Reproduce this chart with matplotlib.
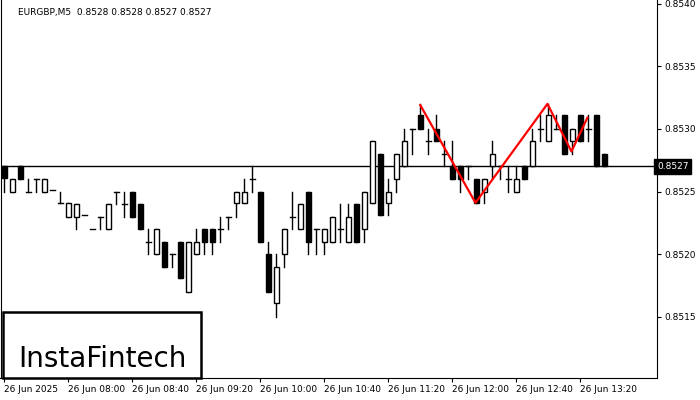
import matplotlib
matplotlib.use("Agg")
import matplotlib.pyplot as plt
from matplotlib.patches import Rectangle

opens  = [0.8527,0.8525,0.8527,0.8525,0.8526,0.8525,0.85251,0.85241,0.8523,0.8523,0.85231,0.8522,0.8523,0.8522,0.8525,0.8524,0.8525,0.8524,0.8521,0.8520,0.8521,0.8520,0.8521,0.8517,0.8520,0.8522,0.8522,
          0.8522,0.8523,0.85241,0.85241,0.8526,0.8525,0.8520,0.85161,0.8520,0.8523,0.8522,0.8525,0.8522,0.8521,0.8521,0.8522,0.8521,0.8524,0.8522,0.85241,0.8528,0.85241,0.8526,0.8527,
          0.8530,0.85311,0.8529,0.8530,0.8528,0.8527,0.8527,0.8527,0.8526,0.8525,0.8527,0.8527,0.8526,0.8525,0.8527,0.8527,0.8530,0.8529,0.8530,0.85311,0.8529,0.85311,0.8530,0.85311,0.8528]
closes = [0.85261,0.8526,0.8526,0.8525,0.8526,0.8526,0.85251,0.85241,0.85241,0.8524,0.85231,0.8522,0.8523,0.8524,0.8525,0.8524,0.8523,0.8522,0.8521,0.8522,0.8519,0.8520,0.85181,0.8521,0.8521,0.8521,0.8521,
          0.8522,0.8523,0.8525,0.8525,0.8526,0.8521,0.8517,0.8519,0.8522,0.8523,0.8524,0.8521,0.8522,0.8522,0.8523,0.8522,0.8523,0.8521,0.8525,0.8529,0.85231,0.8525,0.8528,0.8529,
          0.8530,0.8530,0.8529,0.8529,0.8528,0.8526,0.8526,0.8527,0.85241,0.8526,0.8528,0.8527,0.8526,0.8526,0.8526,0.8529,0.8530,0.85311,0.8530,0.8528,0.8530,0.8529,0.8530,0.8527,0.8527]
highs  = [0.8527,0.8526,0.8527,0.8526,0.8526,0.8526,0.85251,0.8525,0.85241,0.8524,0.85231,0.8522,0.8523,0.8524,0.8525,0.8525,0.8525,0.8524,0.8522,0.8522,0.8521,0.8520,0.8521,0.8521,0.8522,0.8522,0.8522,
          0.8523,0.8523,0.8525,0.8526,0.8527,0.8525,0.8521,0.8520,0.8522,0.8525,0.8524,0.8525,0.8522,0.8522,0.8523,0.8524,0.8524,0.8524,0.8525,0.8529,0.8528,0.8526,0.8528,0.8530,
          0.8530,0.8532,0.8530,0.85311,0.8529,0.8529,0.8527,0.8527,0.8526,0.8526,0.8529,0.8527,0.8527,0.8527,0.8527,0.8530,0.85311,0.8532,0.85311,0.85311,0.8530,0.85311,0.85311,0.85311,0.8528]
lows   = [0.8525,0.8525,0.8526,0.8525,0.8525,0.8525,0.85251,0.85241,0.8523,0.8522,0.85231,0.8522,0.8522,0.8522,0.8524,0.8523,0.8523,0.8522,0.8520,0.8520,0.8519,0.8519,0.85181,0.8517,0.8520,0.8520,0.8520,
          0.8521,0.8522,0.8523,0.85241,0.8525,0.8521,0.8517,0.8515,0.8519,0.8522,0.8522,0.8520,0.8520,0.8520,0.8521,0.8521,0.8521,0.8521,0.8521,0.85241,0.85231,0.85231,0.8525,0.8527,
          0.8528,0.8530,0.8528,0.8529,0.8527,0.8526,0.8525,0.8526,0.85241,0.85241,0.8526,0.8526,0.8525,0.8525,0.8526,0.8527,0.8529,0.8529,0.8530,0.8528,0.8528,0.8529,0.8529,0.8527,0.8527]
pattern_x = [52, 58.9, 67.9, 70.9, 72.9]
pattern_y = [0.85319, 0.85241, 0.85320, 0.85282, 0.85309]
tick_idx = [0, 8, 16, 24, 32, 40, 48, 56, 64, 72]
tick_labels = ["26 Jun 2025","26 Jun 08:00","26 Jun 08:40","26 Jun 09:20","26 Jun 10:00",
               "26 Jun 10:40","26 Jun 11:20","26 Jun 12:00","26 Jun 12:40","26 Jun 13:20"]
yticks = [0.8515, 0.8520, 0.8525, 0.8530, 0.8535, 0.8540]
current = 0.8527

fig = plt.figure(figsize=(7, 4), dpi=100)
ax = fig.add_axes([0.5/700, 22/400, 656.5/700, 378/400])
w = 0.62
for i, (o, c, h, l) in enumerate(zip(opens, closes, highs, lows)):
    top, bot = max(o, c), min(o, c)
    ax.plot([i, i], [l, h], color="black", lw=1, zorder=2)
    if abs(o - c) < 1e-6:
        ax.plot([i - w/2, i + w/2], [o, o], color="black", lw=1, zorder=3)
    else:
        fc = "white" if c > o else "black"
        ax.add_patch(Rectangle((i - w/2, bot), w, top - bot, facecolor=fc,
                               edgecolor="black", lw=1, zorder=3))
ax.axhline(current, color="black", lw=1, zorder=1)
ax.plot(pattern_x, pattern_y, color="red", lw=1.6, zorder=4)
ax.set_xlim(-0.5, 81.6)
ax.set_ylim(0.85101, 0.85403)
ax.yaxis.tick_right()
ax.set_yticks(yticks)
ax.set_yticklabels([f"{v:.4f}" for v in yticks], fontsize=6.5)
ax.set_xticks(tick_idx)
ax.set_xticklabels(tick_labels, fontsize=6.5, ha="left")
ax.tick_params(length=3, pad=2)
ax.spines["top"].set_visible(False)
ax.text(1.7, 0.85397, "EURGBP,M5  0.8528 0.8528 0.8527 0.8527", fontsize=6.5, va="top")
ax.text(1.0, current, "0.8527", transform=ax.get_yaxis_transform(), fontsize=6.5,
        color="white", va="center", ha="left",
        bbox=dict(boxstyle="square,pad=0.3", fc="black", ec="black"), clip_on=False)
fig.patches.append(Rectangle((3/700, 22/400), 198/700, 66/400, transform=fig.transFigure,
                             fc="white", ec="black", lw=1.8, zorder=10))
fig.text(102/700, 1 - 359/400, "InstaFintech", fontsize=20, va="center", ha="center",
         zorder=11)
fig.savefig("out.png")
